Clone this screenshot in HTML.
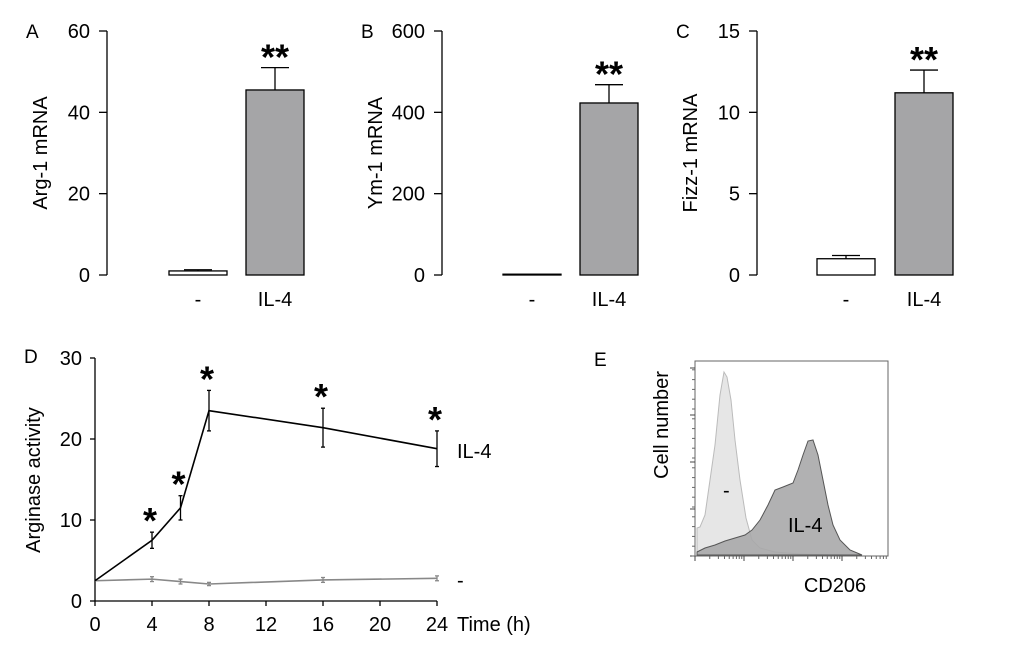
<!DOCTYPE html>
<html><head><meta charset="utf-8"><style>
body{margin:0;background:#fff;}
svg{display:block;font-family:"Liberation Sans",Arial,sans-serif;}
</style></head><body>
<svg id="fig" width="1020" height="657" viewBox="0 0 1020 657">
<g id="barpanels"></g>
<g id="lineD"></g>
<g id="histE">
  <text x="594" y="366" font-size="19">E</text>
  <text transform="translate(668,425) rotate(-90)" text-anchor="middle" font-size="20">Cell number</text>
  <rect x="695" y="361" width="193" height="195" fill="#fff" stroke="#666" stroke-width="1"/>
  <path d="M697,528 L700,527 705,515 710,480 715,445 720,395 724,372 727,377 731,400 735,440 740,480 746,518 752,540 760,548 775,552 800,554 830,555 697,555Z" fill="#e6e6e6" stroke="#bbb" stroke-width="1"/>
  <path d="M697,552 L705,548 715,545 725,541 735,538 745,535 752,530 760,520 768,505 775,490 783,487 793,483 798,470 803,455 808,441 813,440 818,455 823,480 828,505 833,525 840,540 850,550 862,555 697,555Z" fill="#a9a9aa" fill-opacity="0.9" stroke="#555" stroke-width="1"/>
  <text x="723" y="497" font-size="20">-</text>
  <text x="788" y="532" font-size="20">IL-4</text>
  <text x="835" y="592" text-anchor="middle" font-size="20">CD206</text>
  <g id="eticks"></g>
</g>
</svg>
<script>
const NS="http://www.w3.org/2000/svg";
function mk(parent,tag,attrs,text){const e=document.createElementNS(NS,tag);for(const k in attrs)e.setAttribute(k,attrs[k]);if(text!==undefined)e.textContent=text;parent.appendChild(e);return e;}

const panelLetters=["A","B","C"];
const panelTitles=["Arg-1 mRNA","Ym-1 mRNA","Fizz-1 mRNA"];
const categories=["-","IL-4"];
const barValuesA=[1,45.5];
const barErrA=[0.3,5.5];
const barValuesB=[2,423];
const barErrB=[0,45];
const barValuesC=[1.0,11.2];
const barErrC=[0.2,1.4];
const ticksA=[0,20,40,60];
const ticksB=[0,200,400,600];
const ticksC=[0,5,10,15];
const sigLabels=["","**"];

const panels=[
 {x0:107,vals:barValuesA,errs:barErrA,ticks:ticksA,bx:[169,246]},
 {x0:442,vals:barValuesB,errs:barErrB,ticks:ticksB,bx:[503,580]},
 {x0:757,vals:barValuesC,errs:barErrC,ticks:ticksC,bx:[817,895]}
];
const bp=document.getElementById('barpanels');
panels.forEach((p,i)=>{
 const g=mk(bp,'g',{});
 
 
 const yTop=31,yBot=275,max=p.ticks[p.ticks.length-1];
 const ys=v=>yBot-(v/max)*(yBot-yTop);
 const lab=mk(g,'text',{x:p.x0-81,y:38,'font-size':19},panelLetters[i]);
 
 
 const ax=mk(g,'line',{x1:p.x0,x2:p.x0,y1:yTop,y2:yBot,stroke:'#000','stroke-width':1.3});
 
 
 p.ticks.forEach(t=>{
  mk(g,'line',{x1:p.x0-8,x2:p.x0,y1:ys(t),y2:ys(t),stroke:'#000','stroke-width':1.3});
  const tl=mk(g,'text',{x:p.x0-17,y:ys(t)+7,'text-anchor':'end','font-size':20},String(t));
  
  
 });
 const tt=mk(g,'text',{transform:`translate(${p.x0-60},153) rotate(-90)`,'text-anchor':'middle','font-size':20},panelTitles[i]);
 
 
 p.vals.forEach((v,j)=>{
  const bx=p.bx[j],w=58,top=ys(v);
  if(p.errs[j]>0){
   const et=ys(v+p.errs[j]);
   mk(g,'line',{x1:bx+w/2,x2:bx+w/2,y1:top,y2:et,stroke:'#000','stroke-width':1.3});
   mk(g,'line',{x1:bx+w/2-14,x2:bx+w/2+14,y1:et,y2:et,stroke:'#000','stroke-width':1.3});
  }
  const r=mk(g,'rect',{x:bx,y:top,width:w,height:Math.max(yBot-top,0.5),fill:j?'#a5a5a7':'#fff',stroke:'#000','stroke-width':1.3});
  
  
  const cl=mk(g,'text',{x:bx+w/2,y:306,'text-anchor':'middle','font-size':20},categories[j]);
  
  
  if(sigLabels[j]){
   const s=mk(g,'text',{x:bx+w/2,y:ys(v+p.errs[j])+2,'text-anchor':'middle','font-size':36,'font-weight':'bold'},sigLabels[j]);
   
   
  }
 });
});

const timePoints=[0,4,6,8,16,24];
const il4Values=[2.5,7.5,11.5,23.5,21.4,18.8];
const il4Err=[0,1,1.5,2.5,2.4,2.2];
const ctrlValues=[2.5,2.7,2.4,2.1,2.6,2.8];
const ctrlErr=[0,0.3,0.3,0.2,0.3,0.3];
const il4Sig=[false,true,true,true,true,true];
const xTicksD=[0,4,8,12,16,20,24];
const yTicksD=[0,10,20,30];
const gd=document.getElementById('lineD');


const xs=t=>95+t/24*342, yd=v=>601-v/30*243;
const dl=mk(gd,'text',{x:24,y:363,'font-size':19},'D');


mk(gd,'line',{x1:95,x2:95,y1:358,y2:601,stroke:'#000','stroke-width':1.3});
mk(gd,'line',{x1:95,x2:437,y1:601,y2:601,stroke:'#000','stroke-width':1.3});
yTicksD.forEach(t=>{
 mk(gd,'line',{x1:90,x2:95,y1:yd(t),y2:yd(t),stroke:'#000','stroke-width':1.3});
 const e=mk(gd,'text',{x:82,y:yd(t)+7,'text-anchor':'end','font-size':20},String(t));
 
 
});
xTicksD.forEach(t=>{
 mk(gd,'line',{x1:xs(t),x2:xs(t),y1:601,y2:606,stroke:'#000','stroke-width':1.3});
 const e=mk(gd,'text',{x:xs(t),y:631,'text-anchor':'middle','font-size':20},String(t));
 
 
});
const xt=mk(gd,'text',{x:457,y:631,'font-size':20},'Time (h)');


const yt=mk(gd,'text',{transform:'translate(40,480) rotate(-90)','text-anchor':'middle','font-size':20},'Arginase activity');


function series(vals,errs,color,name,cap){
 const l=mk(gd,'polyline',{points:vals.map((v,i)=>xs(timePoints[i])+','+yd(v)).join(' '),fill:'none',stroke:color,'stroke-width':1.6});
 
 
 vals.forEach((v,i)=>{
  if(!errs[i])return;
  const x=xs(timePoints[i]);
  mk(gd,'line',{x1:x,x2:x,y1:yd(v-errs[i]),y2:yd(v+errs[i]),stroke:color,'stroke-width':1.3});
  mk(gd,'line',{x1:x-cap,x2:x+cap,y1:yd(v-errs[i]),y2:yd(v-errs[i]),stroke:color,'stroke-width':1.3});
  mk(gd,'line',{x1:x-cap,x2:x+cap,y1:yd(v+errs[i]),y2:yd(v+errs[i]),stroke:color,'stroke-width':1.3});
 });
}
series(ctrlValues,ctrlErr,'#888','line-control',2);
series(il4Values,il4Err,'#000','line-il4',2);
il4Values.forEach((v,i)=>{
 if(!il4Sig[i])return;
 const s=mk(gd,'text',{x:xs(timePoints[i])-2,y:yd(v+il4Err[i])+1,'text-anchor':'middle','font-size':36,'font-weight':'bold'},'*');
 
 
});
const l1=mk(gd,'text',{x:457,y:458,'font-size':20},'IL-4');


const l2=mk(gd,'text',{x:457,y:587,'font-size':20},'-');



const et=document.getElementById('eticks');
for(let i=0;i<=4;i++){const y=556-i*47;mk(et,'line',{x1:690,x2:695,y1:y,y2:y,stroke:'#444'});}
for(let i=0;i<20;i++){const y=556-i*9.8;mk(et,'line',{x1:692,x2:695,y1:y,y2:y,stroke:'#666'});}
for(let d=0;d<4;d++){const x0=695+d*49;mk(et,'line',{x1:x0,x2:x0,y1:556,y2:561,stroke:'#444'});
 for(let k=2;k<10;k++){const x=x0+Math.log10(k)*49;if(x<888)mk(et,'line',{x1:x,x2:x,y1:556,y2:559,stroke:'#666'});}}
</script>
</body></html>
